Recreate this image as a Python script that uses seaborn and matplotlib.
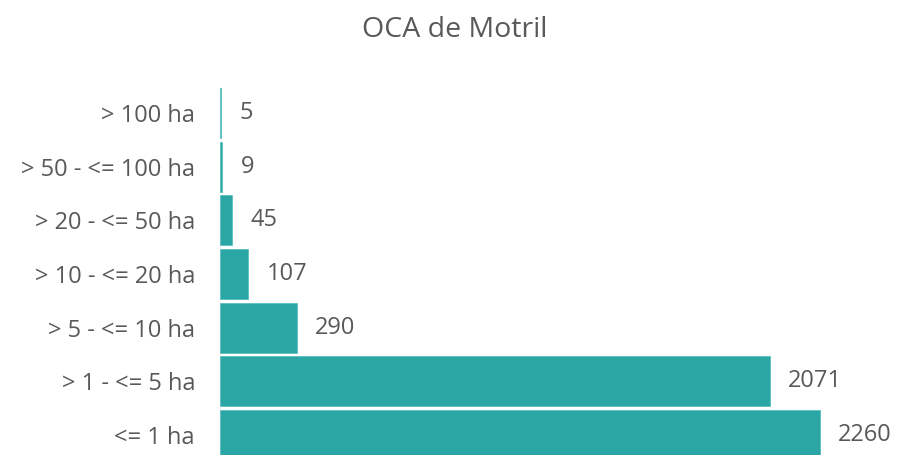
import matplotlib
matplotlib.use("Agg")
import matplotlib.pyplot as plt
import seaborn as sns
import pandas as pd

categories = ['> 100 ha', '> 50 - <= 100 ha', '> 20 - <= 50 ha', '> 10 - <= 20 ha',
              '> 5 - <= 10 ha', '> 1 - <= 5 ha', '<= 1 ha']
counts = [5, 9, 45, 107, 290, 2071, 2260]

df = pd.DataFrame({'cat': categories, 'n': counts})

sns.set_theme(style='white')
plt.rcParams['font.family'] = ['Open Sans', 'DejaVu Sans']
text_color = '#595959'
bar_color = '#2AA7A4'

fig = plt.figure(figsize=(9.01, 4.55), dpi=100)
ax = fig.add_axes([220 / 901, -7 / 455, 681 / 901, 376 / 455])

sns.barplot(data=df, x='n', y='cat', orient='h', color=bar_color, saturation=1,
            width=0.93, edgecolor='#5CC0BD', linewidth=0.6, ax=ax)

for i, v in enumerate(counts):
    ax.annotate(str(v), xy=(v, i), xytext=(13, 0), textcoords='offset points',
                ha='left', va='center', fontsize=17, color=text_color)

ax.set_xlim(0, 2565)
ax.set_ylim(6.5, -0.5)
ax.set_xlabel('')
ax.set_ylabel('')
ax.set_xticks([])
ax.tick_params(axis='y', length=0, pad=18, labelsize=17, labelcolor=text_color)
for s in ax.spines.values():
    s.set_visible(False)

fig.text(0.505, 0.934, 'OCA de Motril', ha='center', va='center', fontsize=20.5, color=text_color)

fig.savefig('out.png', dpi=100)
